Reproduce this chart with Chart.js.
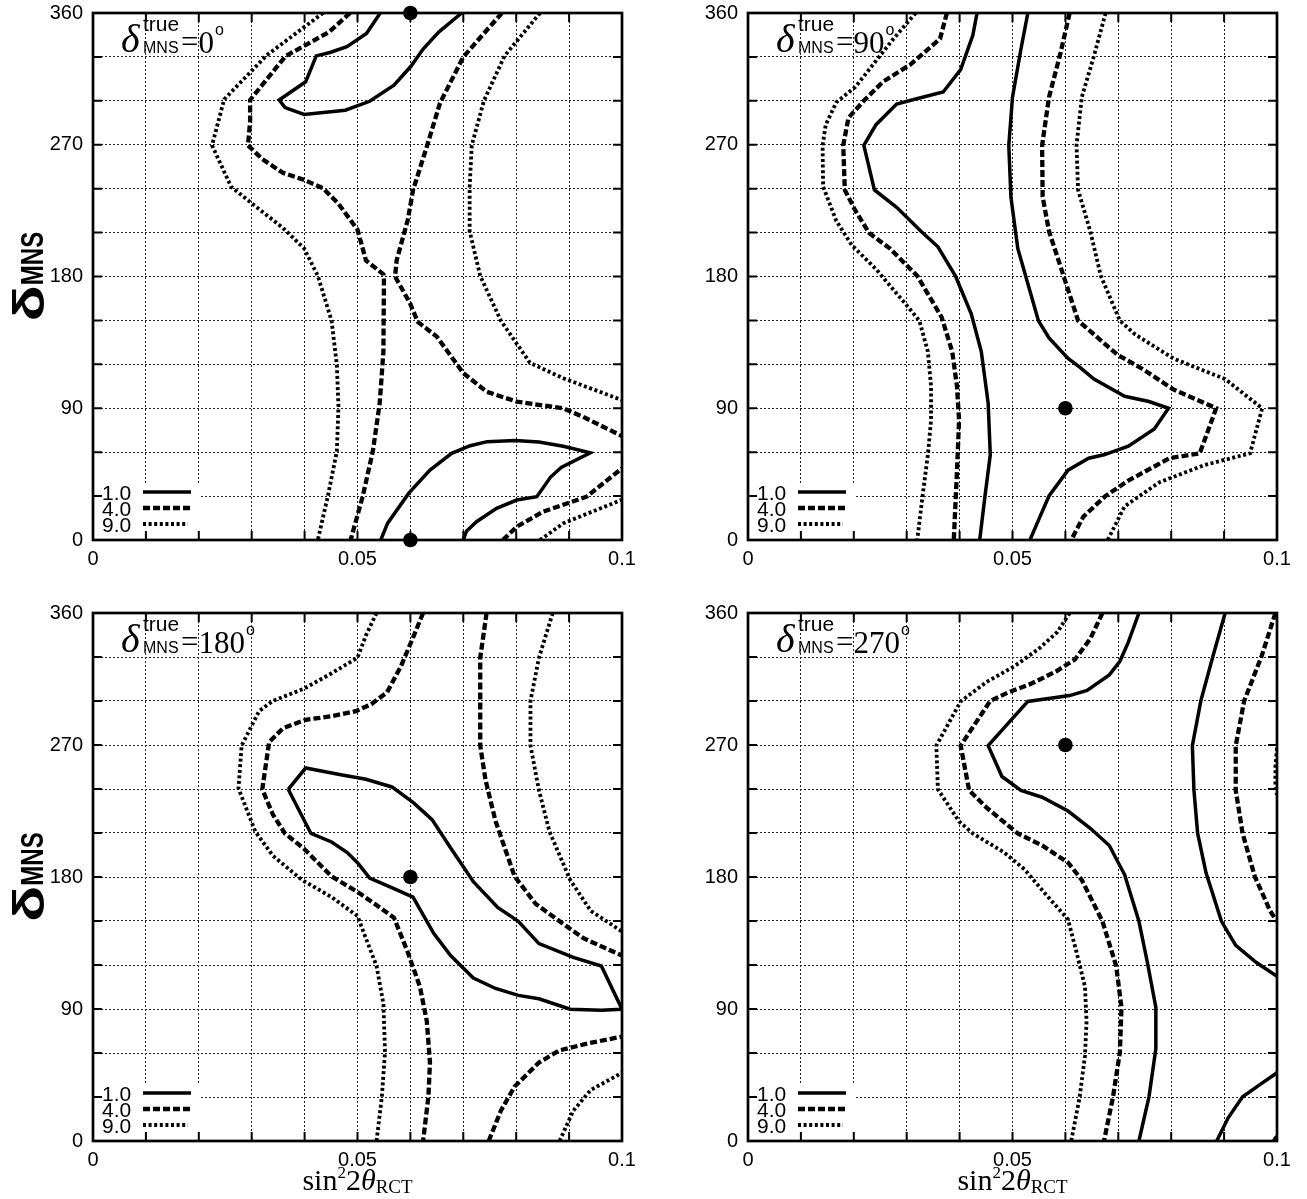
<!DOCTYPE html>
<html>
<head>
<meta charset="utf-8">
<script src="https://cdn.jsdelivr.net/npm/chart.js@4.4.0/dist/chart.umd.min.js"></script>
<style>
  html, body { margin: 0; padding: 0; background: #fff; }
  #wrap { position: relative; width: 1307px; height: 1199px; overflow: hidden; }
  canvas { position: absolute; }
</style>
</head>
<body>
<div id="wrap">
  <canvas id="c0" width="653" height="600" style="left:0px;top:0px"></canvas>
  <canvas id="c1" width="652" height="600" style="left:655px;top:0px"></canvas>
  <canvas id="c2" width="653" height="599" style="left:0px;top:600px"></canvas>
  <canvas id="c3" width="652" height="599" style="left:655px;top:600px"></canvas>
</div>
<script>
// ---- axis ticks and labels ----
const xTickLabels = ['0', '0.05', '0.1'];
const yTickLabels = ['0', '90', '180', '270', '360'];
const chi2Levels = ['1.0', '4.0', '9.0'];
const trueDelta = ['0', '90', '180', '270'];

// ---- contours, [sin^2 2theta, delta] pairs ----
// delta_true = 0
const d0Solid1 = [[0.0543,360],[0.0517,346],[0.0480,337],[0.0448,333],[0.0422,330.7],[0.0402,313],[0.0352,300.6],[0.0363,295.4],[0.0399,290.7],[0.0477,293.6],[0.0523,299.7],[0.0569,310.7],[0.0601,323.6],[0.0624,335.4],[0.0654,347.1],[0.0697,360]];
const d0Solid2 = [[0.0544,0],[0.0557,11.5],[0.0597,32],[0.0637,47.8],[0.0678,59.2],[0.0713,64.4],[0.0745,67.2],[0.0798,68],[0.0843,67],[0.0889,64],[0.0940,59.6],[0.0885,49.5],[0.0865,43],[0.0839,29.6],[0.0801,27.3],[0.0763,21.6],[0.0725,12.5],[0.0706,6],[0.0700,0]];
const d0Dash1 = [[0.0486,360],[0.0446,347],[0.0364,330.5],[0.0297,300.6],[0.0297,286],[0.0293,269.6],[0.0320,260.2],[0.0359,250.8],[0.0399,246],[0.0435,240.3],[0.0464,229.7],[0.0500,212],[0.0516,191],[0.0549,181.5],[0.0550,178],[0.0549,128.7],[0.0542,93.5],[0.0529,60.6],[0.0510,30],[0.0487,0]];
const d0Dash2 = [[0.0773,360],[0.0700,330],[0.0656,298.5],[0.0631,268.7],[0.0605,239],[0.0595,218.6],[0.0574,191],[0.0571,180],[0.0599,161.9],[0.0614,149],[0.0650,138.9],[0.0700,114],[0.0744,101.3],[0.0801,94.5],[0.0889,90],[0.0926,84.2],[0.1000,71]];
const d0Dash3 = [[0.0775,0],[0.0801,9.1],[0.0851,19.4],[0.0933,29.6],[0.1000,49]];
const d0Dot1 = [[0.0435,360],[0.0420,356],[0.0328,331],[0.0248,301],[0.0225,269.6],[0.0261,241.4],[0.0301,229.7],[0.0359,213.2],[0.0399,199.2],[0.0425,180.4],[0.0451,149.8],[0.0461,119.3],[0.0464,91.1],[0.0461,60.6],[0.0444,30.1],[0.0425,0]];
const d0Dot2 = [[0.0845,360],[0.0778,330.7],[0.0739,300.1],[0.0716,269.6],[0.0712,241.4],[0.0712,210.9],[0.0732,180.4],[0.0771,149.8],[0.0826,121],[0.0889,110.5],[0.1000,95.6]];
const d0Dot3 = [[0.0845,0],[0.0889,11.4],[0.1000,27.5]];
const d0Best = [[0.06,360],[0.06,0]];

// delta_true = 90
const d90Dot1 = [[0.0317,360],[0.0275,342.4],[0.0203,309.5],[0.0167,299],[0.0147,283.7],[0.0141,269.6],[0.0142,241.4],[0.0167,217.9],[0.0196,201.5],[0.0242,185],[0.0297,161.6],[0.0324,149.8],[0.0340,128.7],[0.0346,105.2],[0.0346,81.7],[0.0340,58.2],[0.0330,30.1],[0.0320,0]];
const d90Dash1 = [[0.0376,360],[0.0363,342.4],[0.0307,324.8],[0.0255,313],[0.0219,300.1],[0.0190,288.4],[0.0180,269.6],[0.0183,239.1],[0.0203,225],[0.0229,209.7],[0.0268,199.2],[0.0320,180.4],[0.0366,152.2],[0.0386,128.7],[0.0395,105.2],[0.0399,81.7],[0.0395,46.5],[0.0389,0]];
const d90Solid1 = [[0.0433,360],[0.0425,344.8],[0.0402,321.3],[0.0369,306],[0.0317,301.3],[0.0281,297.8],[0.0242,283.7],[0.0219,269.6],[0.0239,239.1],[0.0281,227.3],[0.0327,210.9],[0.0359,200.3],[0.0392,180.4],[0.0422,154.5],[0.0441,128.7],[0.0454,93.5],[0.0458,58.2],[0.0448,30.1],[0.0438,0]];
const d90Solid2 = [[0.0529,360],[0.0516,335.4],[0.0500,302.5],[0.0493,269.6],[0.0497,234.4],[0.0510,199.2],[0.0549,149.8],[0.0569,138.1],[0.0605,124],[0.0627,118.1],[0.0654,109.9],[0.0712,98.2],[0.0758,94.6],[0.0795,90],[0.0768,75.9],[0.0719,64.1],[0.0673,58.2],[0.0644,55.9],[0.0605,47.7],[0.0569,30.1],[0.0552,16],[0.0533,0]];
const d90Dash2 = [[0.0608,360],[0.0591,333],[0.0569,302.5],[0.0556,269.6],[0.0557,234.4],[0.0569,210.9],[0.0605,171],[0.0624,149.8],[0.0654,140.4],[0.0699,126.4],[0.0745,117],[0.0804,102.9],[0.0885,90],[0.0854,59.2],[0.0797,55.9],[0.0719,40.6],[0.0676,30.1],[0.0634,16],[0.0611,0]];
const d90Dot2 = [[0.0676,360],[0.0654,330.7],[0.0631,302.5],[0.0621,269.6],[0.0624,239.1],[0.0647,210.9],[0.0667,180.4],[0.0703,149.8],[0.0732,140.4],[0.0804,124],[0.0902,109.9],[0.0972,90],[0.0949,59.2],[0.0863,51.2],[0.0778,39.5],[0.0712,23],[0.0680,0]];
const d90Best = [[0.06,90]];

// delta_true = 180
const d180Dot1 = [[0.0536,360],[0.0516,344.8],[0.0500,329.5],[0.0451,318.9],[0.0399,308.4],[0.0340,300.1],[0.0314,293.1],[0.0281,269.6],[0.0275,240.3],[0.0307,210.9],[0.0340,194.5],[0.0395,178],[0.0451,166.3],[0.0500,153.4],[0.0516,138.1],[0.0536,119.3],[0.0549,93.5],[0.0552,60.6],[0.0546,30.1],[0.0536,0]];
const d180Dash1 = [[0.0624,360],[0.0604,342.4],[0.0582,323.6],[0.0556,306],[0.0526,297.8],[0.0497,293.1],[0.0451,289.6],[0.0402,287.2],[0.0359,281.4],[0.0333,272],[0.0320,239.8],[0.0340,222.6],[0.0363,209.7],[0.0399,199.2],[0.0451,180.4],[0.0500,169.8],[0.0533,161.6],[0.0569,152.2],[0.0595,128.7],[0.0618,105.2],[0.0631,81.7],[0.0637,53.5],[0.0634,30.1],[0.0624,0]];
const d180Solid1 = [[0.0369,239.8],[0.0402,254.3],[0.0471,249.6],[0.0516,246.6],[0.0565,241.4],[0.0605,230.9],[0.0641,219.1],[0.0673,201.5],[0.0719,176.8],[0.0765,159.2],[0.0804,149.8],[0.0843,134.6],[0.0908,125.2],[0.0961,119.3],[0.1000,89.9],[0.0961,89.2],[0.0902,89.9],[0.0843,97],[0.0804,99.3],[0.0761,104],[0.0719,111.1],[0.0676,126.4],[0.0644,141.6],[0.0605,166.3],[0.0569,172.1],[0.0523,179.2],[0.0500,189.8],[0.0480,196.8],[0.0451,203.9],[0.0412,209.7],[0.0369,239.8]];
const d180Dash2 = [[0.0744,360],[0.0732,329.5],[0.0732,269.6],[0.0742,246.1],[0.0761,218],[0.0797,180.4],[0.0837,161.6],[0.0882,149.8],[0.0928,138.1],[0.1000,126.4]];
const d180Dot2 = [[0.0869,360],[0.0843,329.5],[0.0827,300.1],[0.0827,269.6],[0.0843,239.1],[0.0863,210.9],[0.0902,178],[0.0941,156.9],[0.1000,142.8]];
const d180Dash3 = [[0.0748,0],[0.0771,20.7],[0.0797,37.1],[0.0843,53.5],[0.0882,61.8],[0.0935,66.5],[0.1000,71.2]];
const d180Dot3 = [[0.0882,0],[0.0908,20.7],[0.0941,34.8],[0.1000,46.5]];
const d180Best = [[0.06,180]];

// delta_true = 270
const d270Dot1 = [[0.0608,360],[0.0585,347.1],[0.0549,335.4],[0.0503,323.6],[0.0451,313],[0.0402,299.7],[0.0356,269.6],[0.0359,239.8],[0.0399,217.9],[0.0425,209.7],[0.0484,196.8],[0.0523,185.1],[0.0562,168.6],[0.0605,151],[0.0621,128.7],[0.0637,105.2],[0.0640,81.7],[0.0637,58.2],[0.0627,30.1],[0.0611,0]];
const d270Dash1 = [[0.0670,360],[0.0647,342.4],[0.0618,328.3],[0.0582,320.1],[0.0536,311.9],[0.0493,306],[0.0458,300.1],[0.0402,269.6],[0.0418,239.1],[0.0451,227.3],[0.0510,209.7],[0.0556,201.5],[0.0605,189.8],[0.0631,178],[0.0670,149.8],[0.0696,119.3],[0.0706,91.1],[0.0703,60.6],[0.0690,30.1],[0.0673,0]];
const d270Solid1 = [[0.0739,360],[0.0719,340.1],[0.0703,327.1],[0.0683,317.8],[0.0641,307.2],[0.0608,303.7],[0.0529,299.7],[0.0454,269.6],[0.0480,248.5],[0.0516,239.1],[0.0556,234.4],[0.0605,225],[0.0647,213.2],[0.0683,201.5],[0.0712,181.5],[0.0739,149.8],[0.0755,121.7],[0.0771,91.1],[0.0771,62.9],[0.0758,30.1],[0.0739,0]];
const d270Solid2 = [[0.0902,360],[0.0879,330.7],[0.0856,300.1],[0.0840,269.6],[0.0843,239.1],[0.0850,209.7],[0.0866,182.7],[0.0895,149.8],[0.0922,133.4],[0.0961,121.7],[0.1000,112.3]];
const d270Dash2 = [[0.0997,360],[0.0971,330.7],[0.0938,300.1],[0.0922,269.6],[0.0922,239.1],[0.0935,209.7],[0.0958,180.4],[0.0987,156.9],[0.1000,149.8]];
const d270Dot2 = [[0.1000,268],[0.0997,255],[0.0997,242],[0.1000,236]];
const d270Solid3 = [[0.0886,0],[0.0908,16],[0.0935,30.1],[0.0967,38.3],[0.1000,46.5]];
const d270Dash3 = [[0.0994,0],[0.1000,3]];
const d270Best = [[0.06,270]];

// ---- line styles per chi^2 level ----
const levelStyle = {
  '1.0': { width: 3.5, dash: [] },
  '4.0': { width: 4.3, dash: [7, 3] },
  '9.0': { width: 3.8, dash: [3, 2.6] }
};

const panels = [
  { id: 'c0', label: trueDelta[0], best: d0Best, yTitle: true, xTitle: false, bottom: 540,
    curves: [[d0Solid1,'1.0'],[d0Solid2,'1.0'],[d0Dash1,'4.0'],[d0Dash2,'4.0'],[d0Dash3,'4.0'],[d0Dot1,'9.0'],[d0Dot2,'9.0'],[d0Dot3,'9.0']] },
  { id: 'c1', label: trueDelta[1], best: d90Best, yTitle: false, xTitle: false, bottom: 540,
    curves: [[d90Solid1,'1.0'],[d90Solid2,'1.0'],[d90Dash1,'4.0'],[d90Dash2,'4.0'],[d90Dot1,'9.0'],[d90Dot2,'9.0']] },
  { id: 'c2', label: trueDelta[2], best: d180Best, yTitle: true, xTitle: true, bottom: 541,
    curves: [[d180Solid1,'1.0'],[d180Dash1,'4.0'],[d180Dash2,'4.0'],[d180Dash3,'4.0'],[d180Dot1,'9.0'],[d180Dot2,'9.0'],[d180Dot3,'9.0']] },
  { id: 'c3', label: trueDelta[3], best: d270Best, yTitle: false, xTitle: true, bottom: 541,
    curves: [[d270Solid1,'1.0'],[d270Solid2,'1.0'],[d270Solid3,'1.0'],[d270Dash1,'4.0'],[d270Dash2,'4.0'],[d270Dash3,'4.0'],[d270Dot1,'9.0'],[d270Dot2,'9.0']] }
];

const SANS = '"Liberation Sans", Arial, Helvetica, sans-serif';
const SERIF = '"Liberation Serif", "Times New Roman", serif';

function near(a, b) { return Math.abs(a - b) < 1e-7; }

// frame, inward ticks, legend and annotations drawn through the chart's scales
const decor = {
  id: 'decor',
  beforeDatasetsDraw(chart) {
    const { ctx, scales: { x, y } } = chart;
    // white patch behind the legend
    ctx.save();
    ctx.fillStyle = '#fff';
    const l = x.getPixelForValue(0), r = x.getPixelForValue(0.0202);
    const t = y.getPixelForValue(38.5), b = y.getPixelForValue(0);
    ctx.fillRect(l, t, r - l, b - t);
    ctx.restore();
  },
  afterDraw(chart) {
    const { ctx, chartArea: ca, scales: { x, y } } = chart;
    const p = chart.options.plugins.decor;
    ctx.save();
    // inward tick marks on all four sides
    ctx.strokeStyle = '#000';
    ctx.lineWidth = 2;
    ctx.beginPath();
    for (let i = 1; i < 10; i++) {
      const px = x.getPixelForValue(i / 100);
      ctx.moveTo(px, ca.bottom); ctx.lineTo(px, ca.bottom - 9);
      ctx.moveTo(px, ca.top); ctx.lineTo(px, ca.top + 9);
    }
    for (let i = 1; i < 12; i++) {
      const py = y.getPixelForValue(i * 30);
      ctx.moveTo(ca.left, py); ctx.lineTo(ca.left + 9, py);
      ctx.moveTo(ca.right, py); ctx.lineTo(ca.right - 9, py);
    }
    ctx.stroke();
    // frame
    ctx.lineWidth = 2.7;
    ctx.strokeRect(ca.left, ca.top, ca.right - ca.left, ca.bottom - ca.top);

    // legend: chi^2 levels
    ctx.fillStyle = '#000';
    ctx.textBaseline = 'alphabetic';
    ctx.textAlign = 'left';
    chi2Levels.forEach((lv, i) => {
      const yy = ca.bottom - 48 + i * 16;
      ctx.font = '21px ' + SANS;
      ctx.fillText(lv, ca.left + 9, yy + 8);
      const st = levelStyle[lv];
      ctx.lineWidth = st.width;
      ctx.setLineDash(st.dash);
      ctx.beginPath();
      ctx.moveTo(ca.left + 50, yy);
      ctx.lineTo(ca.left + (i === 2 ? 95 : 98), yy);
      ctx.stroke();
      ctx.setLineDash([]);
    });

    // panel title  delta^true_MNS = value
    const L = ca.left, T = ca.top;
    ctx.font = 'italic 40px ' + SERIF;
    ctx.fillText('\u03b4', L + 28, T + 39);
    ctx.font = '21px ' + SANS;
    ctx.fillText('true', L + 50, T + 18);
    ctx.font = '16px ' + SANS;
    ctx.fillText('MNS', L + 50, T + 40);
    ctx.font = '31px ' + SERIF;
    const eqW = ctx.measureText('=').width;
    ctx.fillText('=', L + 88, T + 39);
    ctx.fillText(p.label, L + 88 + eqW, T + 40);
    const vW = ctx.measureText(p.label).width;
    ctx.font = '16px ' + SANS;
    ctx.fillText('o', L + 89 + eqW + vW, T + 22);

    // y axis title
    if (p.yTitle) {
      const cy = (ca.top + ca.bottom) / 2;
      ctx.save();
      ctx.translate(44, cy);
      ctx.rotate(-Math.PI / 2);
      ctx.font = 'bold 44px ' + SANS;
      const dW = ctx.measureText('\u03b4').width * 1.35;
      ctx.font = 'bold 32px ' + SANS;
      const mW = ctx.measureText('MNS').width * 0.75;
      const start = -(dW + mW) / 2;
      ctx.save();
      ctx.translate(start, 0);
      ctx.scale(1.35, 1);
      ctx.font = 'bold 44px ' + SANS;
      ctx.fillText('\u03b4', 0, 0);
      ctx.restore();
      ctx.translate(start + dW, -1);
      ctx.scale(0.75, 1);
      ctx.font = 'bold 32px ' + SANS;
      ctx.fillText('MNS', 0, 0);
      ctx.restore();
    }

    // x axis title  sin^2 2theta_RCT
    if (p.xTitle) {
      const parts = [
        ['sin', '30px ' + SERIF, 0],
        ['2', '17px ' + SERIF, -12],
        ['2', '30px ' + SERIF, 0],
        ['\u03b8', 'italic 30px ' + SERIF, 0],
        ['RCT', '19px ' + SERIF, 3]
      ];
      let w = 0;
      parts.forEach(pt => { ctx.font = pt[1]; w += ctx.measureText(pt[0]).width; });
      let cx = (ca.left + ca.right) / 2 - w / 2;
      const base = ca.bottom + 49;
      parts.forEach(pt => {
        ctx.font = pt[1];
        ctx.fillText(pt[0], cx, base + pt[2]);
        cx += ctx.measureText(pt[0]).width;
      });
    }
    ctx.restore();
  }
};

panels.forEach(pn => {
  const canvas = document.getElementById(pn.id);
  const datasets = [{
    data: pn.best.map(([a, b]) => ({ x: a, y: b })),
    showLine: false,
    pointRadius: 7.3,
    pointBackgroundColor: '#000',
    pointBorderWidth: 0,
    clip: false
  }];
  pn.curves.forEach(([pts, lv]) => {
    datasets.push({
      data: pts.map(([a, b]) => ({ x: a, y: b })),
      showLine: true,
      borderColor: '#000',
      borderWidth: levelStyle[lv].width,
      borderDash: levelStyle[lv].dash,
      borderCapStyle: 'butt',
      borderJoinStyle: 'miter',
      pointRadius: 0,
      tension: 0,
      fill: false
    });
  });
  new Chart(canvas, {
    type: 'scatter',
    data: { datasets },
    options: {
      responsive: false,
      animation: false,
      events: [],
      layout: { padding: { top: 13, right: canvas.width - 622, left: 0, bottom: 0 } },
      plugins: {
        legend: { display: false },
        tooltip: { enabled: false },
        decor: { label: pn.label, yTitle: pn.yTitle, xTitle: pn.xTitle }
      },
      scales: {
        x: {
          type: 'linear', min: 0, max: 0.1,
          afterFit: s => { s.height = canvas.height - pn.bottom; s.paddingLeft = 0; s.paddingRight = 0; },
          grid: { color: '#222', lineWidth: 1, drawTicks: false },
          border: { display: false, dash: [2, 2] },
          ticks: {
            stepSize: 0.01, padding: 7, color: '#000',
            font: { family: SANS, size: 20 },
            maxRotation: 0, autoSkip: false,
            callback: v => (near(v, 0) ? xTickLabels[0] : near(v, 0.05) ? xTickLabels[1] : near(v, 0.1) ? xTickLabels[2] : '')
          }
        },
        y: {
          type: 'linear', min: 0, max: 360,
          afterFit: s => { s.width = 93; s.paddingTop = 0; s.paddingBottom = 0; },
          grid: { color: '#222', lineWidth: 1, drawTicks: false },
          border: { display: false, dash: [2, 2] },
          ticks: {
            stepSize: 30, padding: 10, color: '#000',
            font: { family: SANS, size: 20 },
            autoSkip: false,
            callback: v => (v % 90 === 0 ? yTickLabels[v / 90] : '')
          }
        }
      }
    },
    plugins: [decor]
  });
});
</script>
</body>
</html>
